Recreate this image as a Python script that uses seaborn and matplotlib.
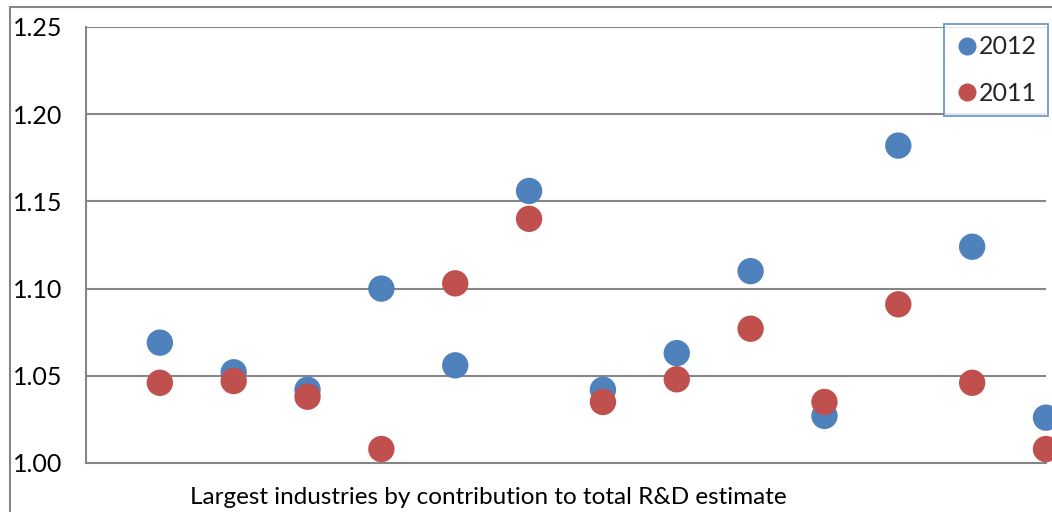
import matplotlib
matplotlib.use("Agg")
import matplotlib.pyplot as plt
from matplotlib.patches import Rectangle
import seaborn as sns
import pandas as pd

# Industry index (1..13) and ratios per year
industry = list(range(1, 14))
values_2012 = [1.069, 1.052, 1.042, 1.100, 1.056, 1.156, 1.042, 1.063, 1.110, 1.027, 1.182, 1.124, 1.026]
values_2011 = [1.046, 1.047, 1.038, 1.008, 1.103, 1.140, 1.035, 1.048, 1.077, 1.035, 1.091, 1.046, 1.008]
series_names = ["2012", "2011"]
y_ticks = [1.00, 1.05, 1.10, 1.15, 1.20, 1.25]
x_title = "Largest industries by contribution to total R&D estimate"

palette = {"2012": "#4F81BD", "2011": "#C0504D"}

df = pd.DataFrame({
    "industry": industry * 2,
    "value": values_2012 + values_2011,
    "year": [series_names[0]] * len(industry) + [series_names[1]] * len(industry),
})

sns.set_theme(style="white")
plt.rcParams["font.family"] = ["Lato", "DejaVu Sans"]

W, H = 1052, 512
fig = plt.figure(figsize=(W / 100, H / 100), dpi=100)
ax = fig.add_axes([86 / W, 1 - 463 / H, (1046 - 86) / W, (463 - 27) / H])

sns.scatterplot(data=df, x="industry", y="value", hue="year", palette=palette,
                s=360, edgecolor="none", ax=ax, legend=False, clip_on=False, zorder=3)

ax.set_xlim(0, 13)
ax.set_ylim(1.00, 1.25)
ax.set_yticks(y_ticks)
ax.set_yticklabels([f"{v:.2f}" for v in y_ticks], fontsize=18, color="black")
ax.set_xticks([])
ax.set_xlabel("")
ax.set_ylabel("")
ax.tick_params(axis="y", length=0, pad=17)
ax.grid(axis="y", color="#868686", linewidth=1.5)
ax.set_axisbelow(True)
for side in ["top", "right"]:
    ax.spines[side].set_visible(False)
for side in ["left", "bottom"]:
    ax.spines[side].set_color("#868686")
    ax.spines[side].set_linewidth(1.5)

fig.text(488 / W, 1 - 497 / H, x_title, ha="center", va="center", fontsize=17.5, color="black")

# Legend
handles = [plt.Line2D([], [], marker="o", linestyle="none", markersize=13,
                      markerfacecolor=palette[n], markeredgecolor="none") for n in series_names]
leg = fig.legend(handles, series_names, loc="upper left",
                 bbox_to_anchor=(944 / W, 1 - 24 / H), bbox_transform=fig.transFigure,
                 borderaxespad=0, fontsize=18, frameon=True, fancybox=False,
                 labelspacing=0.95, handletextpad=0.05, handlelength=0.9,
                 borderpad=0.45)
leg.get_frame().set_edgecolor("#4F81BD")
leg.get_frame().set_linewidth(1.3)

# Outer chart border
fig.patches.append(Rectangle((10 / W, -0.2), 1.5, (1 - 7 / H) + 0.2, transform=fig.transFigure,
                             fill=False, edgecolor="#868686", linewidth=1.5))

fig.savefig("out.png", dpi=100)
